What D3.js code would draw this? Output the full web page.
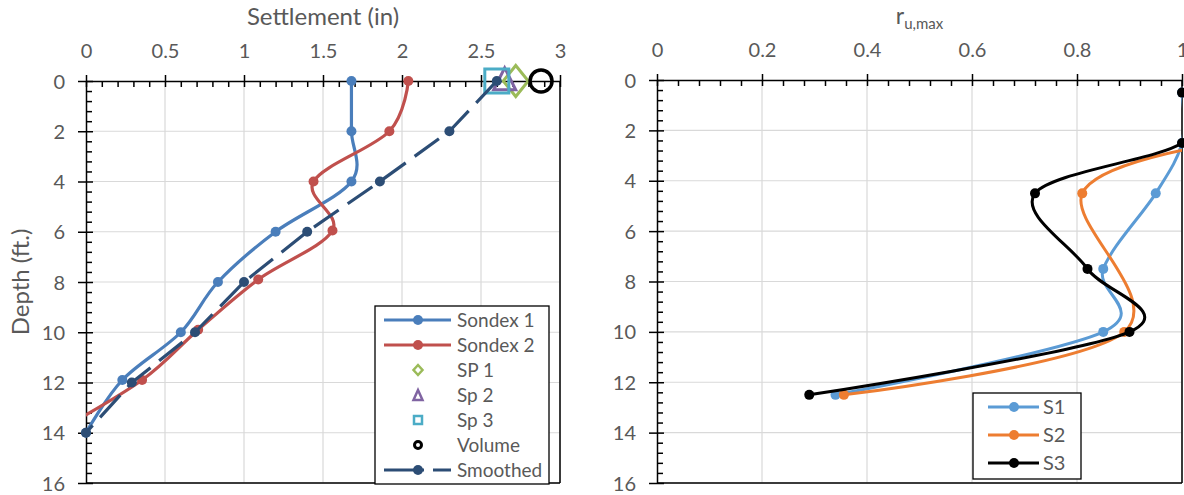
<!DOCTYPE html>
<html><head><meta charset="utf-8">
<script src="https://cdn.jsdelivr.net/npm/d3@7"></script>
<style>
body{margin:0;background:#fff;}
text{font-family:Lato,"Open Sans",sans-serif;fill:#595959;}
</style>
</head><body>
<svg id="chart" width="1184" height="495"></svg>
<script>
// ---------- data: left chart (settlement vs depth) ----------
const settleTicks = [0, 0.5, 1, 1.5, 2, 2.5, 3];
const settleTickLabels = ["0", "0.5", "1", "1.5", "2", "2.5", "3"];
const depthTicks = [0, 2, 4, 6, 8, 10, 12, 14, 16];
const depthTickLabels = ["0", "2", "4", "6", "8", "10", "12", "14", "16"];

const sondex1Depth = [0, 2, 4, 6, 8, 10, 11.9, 14];
const sondex1Settle = [1.68, 1.68, 1.68, 1.2, 0.835, 0.6, 0.23, 0];
const sondex2Depth = [0, 2, 4, 5.95, 7.9, 9.9, 11.9, 14];
const sondex2Settle = [2.04, 1.92, 1.44, 1.56, 1.09, 0.71, 0.355, -0.2];
const smoothedDepth = [0, 2, 4, 6, 8, 10, 12, 14];
const smoothedSettle = [2.6, 2.3, 1.86, 1.4, 1.0, 0.69, 0.29, 0];
const sp1Depth = [0], sp1Settle = [2.72];
const sp2Depth = [0], sp2Settle = [2.65];
const sp3Depth = [0], sp3Settle = [2.6];
const volumeDepth = [0], volumeSettle = [2.88];
const leftLegend = ["Sondex 1", "Sondex 2", "SP 1", "Sp 2", "Sp 3", "Volume", "Smoothed"];

// ---------- data: right chart (ru,max vs depth) ----------
const ruTicks = [0, 0.2, 0.4, 0.6, 0.8, 1];
const ruTickLabels = ["0", "0.2", "0.4", "0.6", "0.8", "1"];
const s1Depth = [0.5, 2.5, 4.5, 7.5, 10, 12.5];
const s1Ru = [1, 1, 0.95, 0.85, 0.85, 0.34];
const s2Depth = [2.6, 4.5, 10, 12.5];
const s2Ru = [1.05, 0.81, 0.89, 0.356];
const s3Depth = [0.5, 2.5, 4.5, 7.5, 10, 12.5];
const s3Ru = [1, 1, 0.72, 0.82, 0.9, 0.29];
const rightLegend = ["S1", "S2", "S3"];

const zip = (ds, vs) => ds.map((d, i) => ({d: d, v: vs[i]}));

const svg = d3.select("#chart");
const defs = svg.append("defs");

function range(a, b, step) { const r = []; for (let v = a; v <= b + 1e-9; v += step) r.push(+v.toFixed(4)); return r; }

function drawFrame(id, x, y, xMajors, xLabels, xMinorStep, yMajors, yLabels, yMinorStep) {
  const [x0, x1] = x.range(), [y0, y1] = y.range();
  const g = svg.append("g");
  defs.append("clipPath").attr("id", id).append("rect")
    .attr("x", x0).attr("y", y0).attr("width", x1 - x0).attr("height", y1 - y0);
  g.selectAll(".vg").data(xMajors.slice(1)).join("line")
    .attr("x1", d => x(d)).attr("x2", d => x(d)).attr("y1", y0).attr("y2", y1)
    .attr("stroke", "#d9d9d9").attr("stroke-width", 1.2);
  g.selectAll(".hg").data(yMajors.slice(1)).join("line")
    .attr("y1", d => y(d)).attr("y2", d => y(d)).attr("x1", x0).attr("x2", x1)
    .attr("stroke", "#d9d9d9").attr("stroke-width", 1.2);
  g.append("line").attr("x1", x1).attr("x2", x1).attr("y1", y0).attr("y2", y1).attr("stroke", "#000").attr("stroke-width", 1.5);
  g.append("line").attr("x1", x0).attr("x2", x1).attr("y1", y1).attr("y2", y1).attr("stroke", "#000").attr("stroke-width", 1.5);

  const xd = x.domain(), yd = y.domain();
  const xMinors = range(xd[0], xd[1], xMinorStep).filter(v => !xMajors.some(m => Math.abs(m - v) < 1e-6));
  const yMinors = range(yd[0], yd[1], yMinorStep).filter(v => !yMajors.some(m => Math.abs(m - v) < 1e-6));

  const axMinX = g.append("g").attr("transform", `translate(0,${y0})`)
    .call(d3.axisTop(x).tickValues(xMinors).tickSize(-6).tickFormat(""));
  axMinX.select(".domain").remove();
  axMinX.selectAll("line").attr("stroke", "#000").attr("stroke-width", 1.5);
  const axX = g.append("g").attr("transform", `translate(0,${y0})`)
    .call(d3.axisTop(x).tickValues(xMajors).tickSize(6).tickSizeOuter(0)
      .tickFormat((d, i) => xLabels[i]));
  axX.select(".domain").attr("stroke", "#000").attr("stroke-width", 1.5);
  axX.selectAll(".tick line").attr("y1", 6).attr("y2", -6).attr("stroke", "#000").attr("stroke-width", 1.5);
  axX.selectAll(".tick text").attr("y", -23).attr("dy", 0)
    .style("font-family", "Lato").style("font-size", "20px").attr("fill", "#595959");

  const axMinY = g.append("g").attr("transform", `translate(${x0},0)`)
    .call(d3.axisLeft(y).tickValues(yMinors).tickSize(-6).tickFormat(""));
  axMinY.select(".domain").remove();
  axMinY.selectAll("line").attr("stroke", "#000").attr("stroke-width", 1.5);
  const axY = g.append("g").attr("transform", `translate(${x0},0)`)
    .call(d3.axisLeft(y).tickValues(yMajors).tickSize(8).tickSizeOuter(0)
      .tickFormat((d, i) => yLabels[i]));
  axY.select(".domain").attr("stroke", "#000").attr("stroke-width", 1.5);
  axY.selectAll(".tick line").attr("x1", 7).attr("x2", -8).attr("stroke", "#000").attr("stroke-width", 1.5);
  axY.selectAll(".tick text").attr("x", -21).attr("dy", "0.35em")
    .style("font-family", "Lato").style("font-size", "20px").attr("fill", "#595959");
  return g;
}

function drawLine(clip, x, y, pts, color, width, curve, dash) {
  const line = d3.line().x(p => x(p.v)).y(p => y(p.d)).curve(curve);
  const p = svg.append("path").datum(pts).attr("d", line)
    .attr("fill", "none").attr("stroke", color).attr("stroke-width", width)
    .attr("stroke-linejoin", "round").attr("clip-path", `url(#${clip})`);
  if (dash) p.attr("stroke-dasharray", dash);
}
function drawDots(x, y, pts, color, r) {
  const [a, b] = x.domain();
  svg.append("g").selectAll("circle").data(pts.filter(p => p.v >= a - 1e-9 && p.v <= b + 1e-9)).join("circle")
    .attr("cx", p => x(p.v)).attr("cy", p => y(p.d)).attr("r", r).attr("fill", color);
}
function shapePath(kind, w, h) {
  if (kind === "diamond") return `M0,${-h/2}L${w/2},0L0,${h/2}L${-w/2},0Z`;
  if (kind === "triangle") return `M0,${-h*0.6}L${w/2},${h*0.4}L${-w/2},${h*0.4}Z`;
  if (kind === "square") return `M${-w/2},${-h/2}H${w/2}V${h/2}H${-w/2}Z`;
  return null;
}
function drawShape(g, kind, cx, cy, w, h, color, sw) {
  if (kind === "circle") {
    g.append("circle").attr("cx", cx).attr("cy", cy).attr("r", w / 2)
      .attr("fill", "none").attr("stroke", color).attr("stroke-width", sw);
  } else {
    g.append("path").attr("d", shapePath(kind, w, h)).attr("transform", `translate(${cx},${cy})`)
      .attr("fill", "none").attr("stroke", color).attr("stroke-width", sw).attr("stroke-linejoin", "miter");
  }
}

const smooth = d3.curveCatmullRom.alpha(0);

// ================= LEFT CHART =================
const lx = d3.scaleLinear().domain([0, 3]).range([86, 560]);
const ly = d3.scaleLinear().domain([0, 16]).range([81, 483]);
drawFrame("clipL", lx, ly, settleTicks, settleTickLabels, 0.1, depthTicks, depthTickLabels, 0.4);

const cS1 = "#4a7ebb", cS2 = "#c0504d", cSP1 = "#9bbb59", cSP2 = "#8064a2", cSP3 = "#4bacc6", cSm = "#2c4d75";
const son1 = zip(sondex1Depth, sondex1Settle), son2 = zip(sondex2Depth, sondex2Settle), smo = zip(smoothedDepth, smoothedSettle);
drawLine("clipL", lx, ly, son1, cS1, 3.2, smooth);
drawDots(lx, ly, son1, cS1, 5);
drawLine("clipL", lx, ly, son2, cS2, 3.2, smooth);
drawDots(lx, ly, son2, cS2, 5);
const gm = svg.append("g");
zip(sp1Depth, sp1Settle).forEach(p => drawShape(gm, "diamond", lx(p.v), ly(p.d), 25, 31, cSP1, 3));
zip(sp2Depth, sp2Settle).forEach(p => drawShape(gm, "triangle", lx(p.v), ly(p.d), 22, 22, cSP2, 3));
zip(sp3Depth, sp3Settle).forEach(p => drawShape(gm, "square", lx(p.v), ly(p.d), 24, 24, cSP3, 3));
zip(volumeDepth, volumeSettle).forEach(p => drawShape(gm, "circle", lx(p.v), ly(p.d), 22, 22, "#000", 3.5));
drawLine("clipL", lx, ly, smo, cSm, 3.2, d3.curveLinear, "30,11");
drawDots(lx, ly, smo, cSm, 5);

svg.append("text").attr("x", (lx.range()[0] + lx.range()[1]) / 2).attr("y", 25)
  .attr("text-anchor", "middle").style("font-size", "24px").text("Settlement (in)");
svg.append("text").attr("transform", `translate(29,${(ly.range()[0] + ly.range()[1]) / 2}) rotate(-90)`)
  .attr("text-anchor", "middle").style("font-size", "24px").text("Depth (ft.)");

const lg = svg.append("g");
lg.append("rect").attr("x", 375).attr("y", 306).attr("width", 174).attr("height", 178)
  .attr("fill", "#fff").attr("stroke", "#000").attr("stroke-width", 1.3);
const legRowY = d3.scalePoint().domain(leftLegend).range([320, 470]);
const lxs = 384, lxe = 451, lxm = 418, ltx = 457;
function legLine(name, color, dash) {
  const yy = legRowY(name);
  const l = lg.append("line").attr("x1", lxs).attr("x2", lxe).attr("y1", yy).attr("y2", yy)
    .attr("stroke", color).attr("stroke-width", 3.2);
  if (dash) l.attr("stroke-dasharray", dash);
  lg.append("circle").attr("cx", lxm).attr("cy", yy).attr("r", 5).attr("fill", color);
}
legLine("Sondex 1", cS1);
legLine("Sondex 2", cS2);
drawShape(lg, "diamond", lxm, legRowY("SP 1"), 9, 10, cSP1, 2.5);
drawShape(lg, "triangle", lxm, legRowY("Sp 2") + 1, 9, 10, cSP2, 2.5);
drawShape(lg, "square", lxm, legRowY("Sp 3"), 8, 8, cSP3, 2.5);
drawShape(lg, "circle", lxm, legRowY("Volume"), 7, 7, "#000", 3);
legLine("Smoothed", cSm, "40,9");
lg.selectAll("text").data(leftLegend).join("text").attr("x", ltx).attr("y", d => legRowY(d))
  .attr("dy", "0.35em").style("font-size", "19px").text(d => d);

// ================= RIGHT CHART =================
const rx = d3.scaleLinear().domain([0, 1]).range([657, 1182]);
const ry = d3.scaleLinear().domain([0, 16]).range([80, 483]);
drawFrame("clipR", rx, ry, ruTicks, ruTickLabels, 0.04, depthTicks, depthTickLabels, 0.4);
const cR1 = "#5b9bd5", cR2 = "#ed7d31", cR3 = "#000";
const r1 = zip(s1Depth, s1Ru), r2 = zip(s2Depth, s2Ru), r3 = zip(s3Depth, s3Ru);
drawLine("clipR", rx, ry, r1, cR1, 3, smooth); drawDots(rx, ry, r1, cR1, 5);
drawLine("clipR", rx, ry, r2, cR2, 3, smooth); drawDots(rx, ry, r2, cR2, 5);
drawLine("clipR", rx, ry, r3, cR3, 3, smooth); drawDots(rx, ry, r3, cR3, 5);

const rt = svg.append("text").attr("x", (rx.range()[0] + rx.range()[1]) / 2).attr("y", 24)
  .attr("text-anchor", "middle");
rt.append("tspan").style("font-size", "23px").text("r");
rt.append("tspan").style("font-size", "15px").attr("dy", 5).text("u,max");

const rg = svg.append("g");
rg.append("rect").attr("x", 973).attr("y", 393).attr("width", 108).attr("height", 86)
  .attr("fill", "#fff").attr("stroke", "#000").attr("stroke-width", 1.3);
const rRowY = d3.scalePoint().domain(rightLegend).range([407, 463]);
const rColors = [cR1, cR2, cR3];
rightLegend.forEach((name, i) => {
  const yy = rRowY(name);
  rg.append("line").attr("x1", 988).attr("x2", 1039).attr("y1", yy).attr("y2", yy)
    .attr("stroke", rColors[i]).attr("stroke-width", 3.2);
  rg.append("circle").attr("cx", 1014).attr("cy", yy).attr("r", 5).attr("fill", rColors[i]);
  rg.append("text").attr("x", 1043).attr("y", yy).attr("dy", "0.35em").style("font-size", "20px").text(name);
});
</script>
</body></html>
